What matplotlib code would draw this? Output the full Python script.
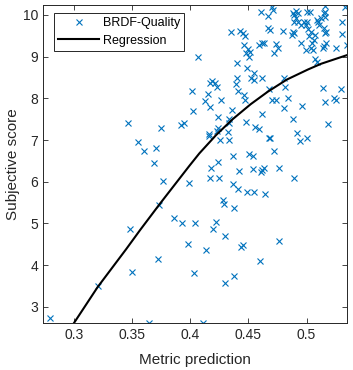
import matplotlib
matplotlib.use('Agg')
import matplotlib.pyplot as plt

plt.rcParams['font.family'] = ['Liberation Sans', 'DejaVu Sans']

# scatter data
metric_pred = [
    0.280, 0.3205, 0.350, 0.372, 0.365, 0.398, 0.403, 0.3486, 0.3463, 0.375,
    0.392, 0.395, 0.3555, 0.360, 0.371, 0.3686, 0.3764, 0.3993, 0.3735, 0.3864,
    0.3927, 0.4042, 0.4065, 0.402, 0.4028,
    0.461, 0.4667, 0.4667, 0.435, 0.443, 0.445, 0.4475, 0.446, 0.4494, 0.4518,
    0.448, 0.4509, 0.4595, 0.4615, 0.463, 0.440, 0.4486,
    0.471, 0.4704, 0.4687, 0.4739, 0.4752, 0.4718, 0.480, 0.4881, 0.491, 0.4924,
    0.4896, 0.491, 0.493, 0.4896, 0.4881, 0.4896, 0.4873, 0.4953, 0.4976, 0.4997,
    0.5005, 0.5025, 0.5091, 0.5102, 0.512, 0.511, 0.5148, 0.516, 0.5148, 0.5168,
    0.504, 0.501, 0.5074, 0.5062, 0.4953, 0.5045, 0.504, 0.5053, 0.5154, 0.5168,
    0.5148, 0.514, 0.4997, 0.5068, 0.509, 0.5303, 0.5326, 0.5303, 0.5349, 0.5002,
    0.5162, 0.5254, 0.5019, 0.5154,
    0.4552, 0.4524, 0.4546, 0.4615, 0.4403, 0.4395, 0.4408, 0.4185, 0.4214, 0.4174,
    0.4231, 0.415, 0.4266, 0.4128, 0.4174, 0.4466, 0.4472, 0.4357, 0.4242, 0.4337,
    0.448, 0.4615, 0.4558, 0.4595, 0.4236, 0.4231, 0.4165, 0.4322, 0.4337,
    0.481, 0.4816, 0.468, 0.470, 0.4739, 0.4844, 0.481, 0.4959, 0.4881, 0.4916,
    0.514, 0.5298, 0.516, 0.5234, 0.5254, 0.5182,
    0.4675, 0.4687, 0.4945, 0.5002, 0.4159, 0.4257, 0.4331, 0.4371, 0.4509, 0.4543,
    0.4724, 0.4236, 0.418, 0.4171, 0.4245, 0.4423, 0.4537, 0.4618, 0.461, 0.463,
    0.4767, 0.489, 0.4371, 0.4408, 0.4486, 0.4552, 0.4644, 0.428, 0.4294, 0.438,
    0.4223, 0.420, 0.4303, 0.4438, 0.4452, 0.4761, 0.4137, 0.4601, 0.4303, 0.438,
    0.4113,
]
subjective = [
    2.73, 3.50, 3.83, 4.14, 2.60, 4.50, 3.80, 4.86, 7.40, 7.28,
    7.36, 7.42, 6.96, 6.74, 6.82, 6.46, 6.02, 5.96, 5.44, 5.12,
    5.02, 5.02, 9.00, 8.17, 7.70,
    10.06, 9.98, 9.68, 9.58, 9.62, 9.56, 9.50, 9.28, 9.18, 9.12,
    9.08, 9.00, 9.28, 9.34, 9.34, 8.86, 8.72,
    10.12, 10.18, 9.64, 9.30, 9.22, 9.10, 9.62, 10.05, 10.10, 10.04,
    10.00, 9.92, 9.84, 9.82, 9.60, 9.56, 9.52, 9.76, 9.82, 9.76,
    9.84, 10.08, 9.88, 9.82, 9.92, 9.76, 10.04, 10.22, 9.68, 9.60,
    9.58, 9.66, 9.52, 9.40, 9.34, 9.32, 9.22, 9.16, 9.56, 9.34,
    9.26, 9.20, 9.16, 8.94, 8.88, 9.82, 10.20, 9.54, 9.28, 10.06,
    9.96, 9.20, 9.50, 10.08,
    8.62, 8.50, 8.44, 8.48, 8.50, 8.34, 8.18, 8.42, 8.38, 8.36,
    8.28, 8.10, 7.96, 7.94, 7.80, 8.08, 7.96, 7.72, 7.56, 7.50,
    7.44, 7.62, 7.32, 7.26, 7.28, 7.22, 7.14, 7.20, 7.42,
    8.50, 8.28, 8.22, 7.96, 7.96, 8.00, 7.76, 7.82, 7.50, 7.18,
    8.26, 8.22, 7.92, 8.00, 7.96, 7.38,
    7.06, 7.04, 6.98, 7.04, 7.10, 7.00, 7.00, 6.62, 6.66, 6.62,
    6.74, 6.48, 6.32, 6.08, 6.10, 6.26, 6.30, 6.28, 6.24, 6.32,
    6.32, 6.10, 5.94, 5.82, 5.76, 5.76, 5.70, 5.56, 5.46, 5.36,
    5.04, 4.86, 4.70, 4.44, 4.48, 4.58, 4.36, 4.10, 3.58, 3.74,
    2.60,
]

# regression curve, points
reg_x = [0.300, 0.3205, 0.345, 0.357, 0.374, 0.3993, 0.4079, 0.4223, 0.4365,
         0.452, 0.4667, 0.483, 0.501, 0.5125, 0.535]
reg_y = [2.60, 3.47, 4.38, 4.84, 5.47, 6.38, 6.68, 7.12, 7.50,
         7.86, 8.16, 8.45, 8.69, 8.83, 9.04]

x_ticks = [0.3, 0.35, 0.4, 0.45, 0.5]
y_ticks = [3, 4, 5, 6, 7, 8, 9, 10]

dark = '#262626'

fig = plt.figure(figsize=(3.53, 3.70), dpi=100)
ax = fig.add_axes([0.1218, 0.1278, 0.8622, 0.8587])

ax.plot(metric_pred, subjective, 'x', color='#0072BD', markersize=4.5,
        markeredgewidth=0.8, label='BRDF-Quality')
ax.plot(reg_x, reg_y, '-', color='black', linewidth=1.5, label='Regression')

ax.set_xlim(0.2736, 0.535)
ax.set_ylim(2.616, 10.24)
ax.set_xticks(x_ticks)
ax.set_xticklabels(['0.3', '0.35', '0.4', '0.45', '0.5'])
ax.set_yticks(y_ticks)

ax.tick_params(direction='in', length=3.5, width=0.6, colors=dark,
               labelsize=10, top=True, right=True)
for s in ax.spines.values():
    s.set_color(dark)
    s.set_linewidth(0.7)

ax.set_xlabel('Metric prediction', fontsize=11, color=dark, labelpad=8)
ax.set_ylabel('Subjective score', fontsize=11, color=dark, labelpad=2)

leg = ax.legend(loc='upper left', bbox_to_anchor=(0.036, 0.975),
                borderaxespad=0, fancybox=False, framealpha=1,
                edgecolor=dark, fontsize=9, handlelength=3.3,
                handletextpad=0.32, borderpad=0.32, labelspacing=0.45)
leg.get_frame().set_linewidth(0.7)

fig.savefig('out.png', dpi=100)
